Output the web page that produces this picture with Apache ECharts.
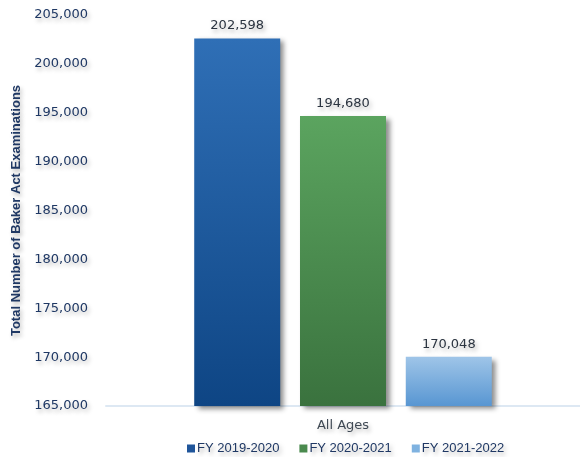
<!DOCTYPE html>
<html>
<head>
<meta charset="utf-8">
<script src="https://cdn.jsdelivr.net/npm/echarts@6/dist/echarts.min.js"></script>
<style>
  html, body { margin: 0; padding: 0; background: #ffffff; }
  #chart { width: 580px; height: 457px; }
</style>
</head>
<body>
<div id="chart"></div>
<script>
// Baker Act examinations, all ages, by fiscal year
const categories = ['All Ages'];
const seriesNames = ['FY 2019-2020', 'FY 2020-2021', 'FY 2021-2022'];
const fy2019 = [202598];
const fy2020 = [194680];
const fy2021 = [170048];
const yTicks = { min: 165000, max: 205000, step: 5000 };

const gradients = [
  ['#2f6fb6', '#0e4584'],
  ['#5ba45f', '#3a723e'],
  ['#9fc5e8', '#5896d2']
];
const legendColors = ['#1f559a', '#4a8a4e', '#7fb2e0'];

const textShadow = {
  textShadowColor: 'rgba(0,0,0,0.28)',
  textShadowBlur: 4,
  textShadowOffsetX: 2,
  textShadowOffsetY: 3
};

function fmt(v) { return v.toLocaleString('en-US'); }

function makeSeries(name, data, i) {
  return {
    name: name,
    type: 'bar',
    data: data,
    barWidth: 86,
    barGap: '23%',
    itemStyle: {
      color: new echarts.graphic.LinearGradient(0, 0, 0, 1, [
        { offset: 0, color: gradients[i][0] },
        { offset: 1, color: gradients[i][1] }
      ]),
      shadowColor: 'rgba(0,0,0,0.45)',
      shadowBlur: 5,
      shadowOffsetX: 4,
      shadowOffsetY: 3
    },
    label: {
      show: true,
      position: 'top',
      distance: 6,
      formatter: p => fmt(p.value),
      fontFamily: 'DejaVu Sans',
      fontSize: 13,
      color: '#2b3440',
      ...textShadow
    }
  };
}

const chart = echarts.init(document.getElementById('chart'), null, { renderer: 'canvas' });
chart.setOption({
  animation: false,
  backgroundColor: '#ffffff',
  color: legendColors,
  grid: { left: 106, right: 0, top: 15, bottom: 51 },
  legend: {
    top: 437,
    left: 182,
    itemWidth: 8,
    itemHeight: 8,
    itemGap: 20,
    icon: 'rect',
    textStyle: {
      fontFamily: 'Liberation Sans',
      fontSize: 13,
      color: '#1f3864',
      padding: [0, 0, 0, -3],
      ...textShadow
    },
    data: seriesNames.map((n, i) => ({ name: n, itemStyle: { color: legendColors[i] } }))
  },
  xAxis: {
    type: 'category',
    data: categories,
    axisLine: { show: true, lineStyle: { color: '#dde8f3', width: 2 } },
    axisTick: { show: false },
    axisLabel: {
      fontFamily: 'DejaVu Sans',
      fontSize: 13,
      color: '#404a55',
      margin: 13,
      ...textShadow
    }
  },
  yAxis: {
    type: 'value',
    min: yTicks.min,
    max: yTicks.max,
    interval: yTicks.step,
    name: 'Total Number of Baker Act Examinations',
    nameLocation: 'middle',
    nameRotate: 90,
    nameGap: 82,
    nameTextStyle: {
      fontFamily: 'Liberation Sans',
      fontWeight: 'bold',
      fontSize: 13,
      color: '#1f3864',
      ...textShadow
    },
    axisLine: { show: false },
    axisTick: { show: false },
    splitLine: { show: false },
    axisLabel: {
      formatter: v => fmt(v),
      fontFamily: 'DejaVu Sans',
      fontSize: 13,
      color: '#1f3864',
      margin: 18,
      ...textShadow
    }
  },
  series: [
    makeSeries(seriesNames[0], fy2019, 0),
    makeSeries(seriesNames[1], fy2020, 1),
    makeSeries(seriesNames[2], fy2021, 2)
  ]
});
</script>
</body>
</html>
